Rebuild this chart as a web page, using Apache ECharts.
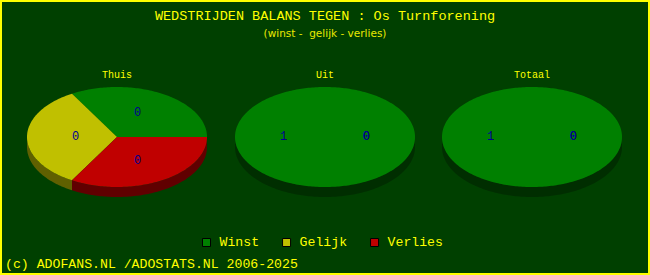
<!DOCTYPE html>
<html>
<head>
<meta charset="utf-8">
<script src="https://cdn.jsdelivr.net/npm/echarts@6/dist/echarts.min.js"></script>
<style>
  html, body { margin: 0; padding: 0; background: #004000; }
  #chart { width: 650px; height: 275px; }
</style>
</head>
<body>
<div id="chart"></div>
<script>
// data
const pieNames = ['Thuis', 'Uit', 'Totaal'];
const legendNames = ['Winst', 'Gelijk', 'Verlies'];
const winst = [0, 1, 1];
const gelijk = [0, 0, 0];
const verlies = [0, 0, 0];

const topColors = ['#008000', '#c0c000', '#c00000'];
const sideColors = ['#002e00', '#606000', '#600000'];

// pie layout (px)
const centersX = [117, 325, 532];
const centerY = 137;
const rx = 90, ry = 50, depth = 10;
const mono = '"Liberation Mono", "DejaVu Sans Mono", monospace';

const chart = echarts.init(document.getElementById('chart'), null, { renderer: 'svg' });

const pt = (cx, a, r1, r2, dy) => [cx + r1 * Math.cos(a), centerY - r2 * Math.sin(a) + (dy || 0)];

function makeRender(s) {
  return function (params, api) {
    const p = params.dataIndex;
    const vals = [winst[p], gelijk[p], verlies[p]];
    const sum = vals.reduce((a, b) => a + b, 0);
    // all zero -> equal parts, like the original
    const fr = sum > 0 ? vals.map(v => v / sum) : vals.map(() => 1 / 3);
    let start = 0;
    for (let i = 0; i < s; i++) start += fr[i] * Math.PI * 2;
    const end = start + fr[s] * Math.PI * 2;
    const cx = centersX[p];
    const children = [];

    // side, only the lower half shows
    const s0 = Math.max(start, Math.PI), s1 = Math.min(end, Math.PI * 2);
    if (s1 > s0) {
      const n = Math.max(2, Math.ceil((s1 - s0) / 0.02));
      const upper = [], lower = [];
      for (let i = 0; i <= n; i++) {
        const a = s0 + (s1 - s0) * i / n;
        upper.push(pt(cx, a, rx, ry));
        lower.push(pt(cx, a, rx, ry, depth));
      }
      children.push({
        type: 'polygon',
        shape: { points: upper.concat(lower.reverse()) },
        style: { fill: sideColors[s] }
      });
    }

    // top face
    if (end > start) {
      const n = Math.max(2, Math.ceil((end - start) / 0.02));
      const pts = [[cx, centerY]];
      for (let i = 0; i <= n; i++) pts.push(pt(cx, start + (end - start) * i / n, rx, ry));
      children.push({
        type: 'polygon',
        shape: { points: pts },
        style: { fill: topColors[s] }
      });
    }

    // value label
    const mid = (start + end) / 2;
    const lp = pt(cx, mid, rx * 0.46, ry * 0.55);
    children.push({
      type: 'text',
      z2: 10,
      style: {
        text: String(api.value(0)),
        x: lp[0], y: lp[1],
        fill: '#000090',
        font: '12px ' + mono,
        align: 'center',
        verticalAlign: 'middle'
      }
    });

    return { type: 'group', children: children };
  };
}

const seriesData = [winst, gelijk, verlies];

const option = {
  backgroundColor: '#004000',
  animation: false,
  title: [
    {
      text: 'WEDSTRIJDEN BALANS TEGEN : Os Turnforening',
      left: 'center', top: 9, padding: 0,
      textStyle: { color: '#ffff00', fontFamily: mono, fontSize: 13.5, fontWeight: 'normal' }
    },
    {
      text: '(winst -  gelijk - verlies)',
      left: 'center', top: 27, padding: 0,
      textStyle: { color: '#e8e800', fontFamily: 'DejaVu Sans', fontSize: 10.5, fontWeight: 'normal' }
    }
  ].concat(pieNames.map((name, i) => ({
    text: name,
    left: centersX[i], top: 70, padding: 0,
    textAlign: 'center',
    textStyle: { color: '#ffff00', fontFamily: mono, fontSize: 10, fontWeight: 'normal' }
  }))).concat([
    {
      text: '(c) ADOFANS.NL /ADOSTATS.NL 2006-2025',
      left: 5, top: 258, padding: 0,
      textStyle: { color: '#ffff00', fontFamily: mono, fontSize: 13.2, fontWeight: 'normal' }
    }
  ]),
  legend: {
    data: legendNames,
    left: 197,
    top: 231,
    icon: 'rect',
    itemWidth: 8,
    itemHeight: 8,
    itemGap: 23,
    selectedMode: false,
    itemStyle: { borderColor: '#000', borderWidth: 1 },
    textStyle: { color: '#ffff00', fontFamily: mono, fontSize: 13.2, padding: [0, 0, 0, 4] }
  },
  graphic: [
    {
      type: 'rect',
      shape: { x: 1, y: 1, width: 648, height: 273 },
      style: { fill: 'none', stroke: '#ffff00', lineWidth: 2 },
      silent: true
    }
  ],
  series: legendNames.map((name, s) => ({
    type: 'custom',
    name: name,
    coordinateSystem: 'none',
    itemStyle: { color: topColors[s] },
    renderItem: makeRender(s),
    data: seriesData[s].map(v => [v])
  }))
};

chart.setOption(option);
</script>
</body>
</html>
